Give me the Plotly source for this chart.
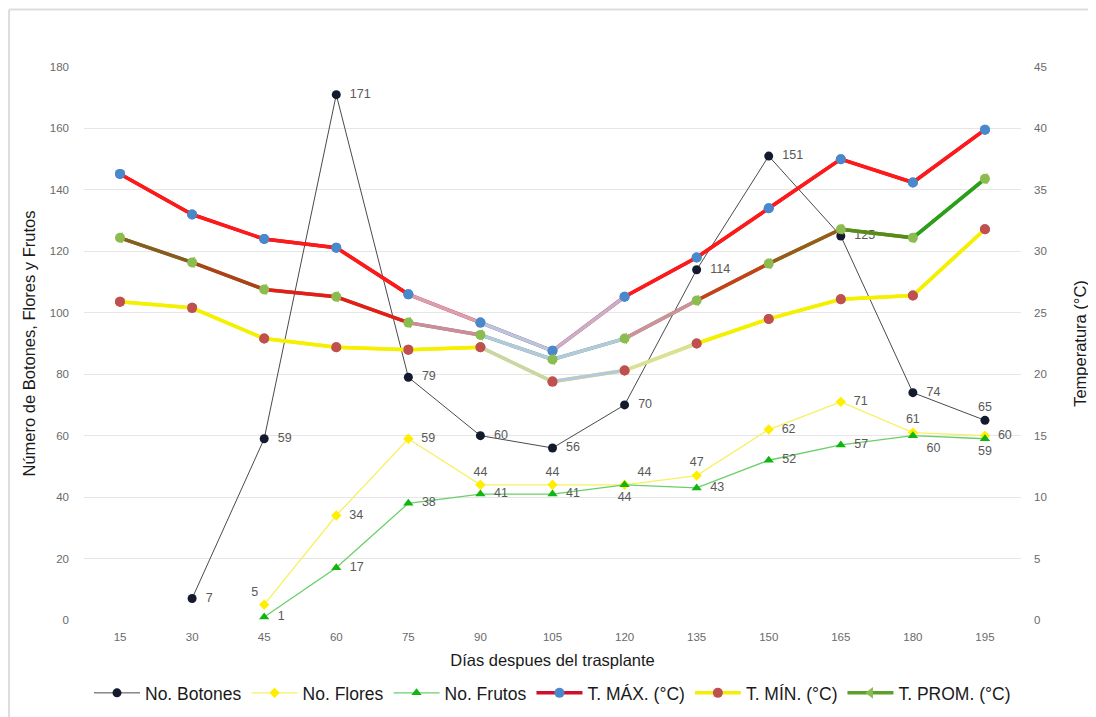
import plotly.graph_objects as go

dias = ["15", "30", "45", "60", "75", "90", "105", "120", "135", "150", "165", "180", "195"]
botones = [None, 7, 59, 171, 79, 60, 56, 70, 114, 151, 125, 74, 65]
flores = [None, None, 5, 34, 59, 44, 44, 44, 47, 62, 71, 61, 60]
frutos = [None, None, 1, 17, 38, 41, 41, 44, 43, 52, 57, 60, 59]
t_max = [36.3, 33.0, 31.0, 30.3, 26.5, 24.2, 21.9, 26.3, 29.5, 33.5, 37.5, 35.6, 39.9]
t_min = [25.9, 25.4, 22.9, 22.2, 22.0, 22.2, 19.4, 20.3, 22.5, 24.5, 26.1, 26.4, 31.8]
t_prom = [31.1, 29.1, 26.9, 26.3, 24.2, 23.2, 21.2, 22.9, 26.0, 29.0, 31.8, 31.1, 35.9]

# styles
LBLUE = "#b4c8e0"
max_seg = ["#ff1a1a"] * 4 + ["#d9a0b0", LBLUE, "#c8b0c8", "#ff1a1a"] + ["#ff1a1a"] * 4
min_seg = ["#f5f000"] * 5 + ["#c8d6b0", LBLUE, "#d8e0a0", "#f5f000"] + ["#f5f000"] * 3
prom_seg = ["#8a5a20", "#b0401a", "#e81a1a", "#e81a1a", "#d08aa0", LBLUE, LBLUE,
            "#d090a0", "#c8401a", "#9a5a1a", "#5a8a1a", "#2aa01a"]

bot_pos = ["middle right"] * 12 + ["top center"]
flo_pos = ["top left", "top left", "top left", "middle right", "middle right", "top center",
           "top center", "top right", "top center", "middle right", "middle right",
           "top center", "middle right"]
fru_pos = ["middle right"] * 7 + ["bottom center", "middle right", "middle right",
                                  "middle right", "bottom right", "bottom center"]

lbl_font = dict(family="Liberation Sans", size=12.5, color="#595959")


def labels(vals, pos):
    out = []
    for v, p in zip(vals, pos):
        if v is None:
            out.append("")
        elif p.endswith("right"):
            out.append("  " + str(v))
        else:
            out.append(str(v))
    return out


fig = go.Figure()

fig.add_trace(go.Scatter(
    x=dias, y=botones, name="No. Botones", mode="lines+markers+text",
    line=dict(color="#4a4a4a", width=1), marker=dict(color="#141a2e", size=9),
    text=labels(botones, bot_pos), textposition=bot_pos,
    textfont=lbl_font, cliponaxis=False))
fig.add_trace(go.Scatter(
    x=dias, y=flores, name="No. Flores", mode="lines+markers+text",
    line=dict(color="#f7f060", width=1.3), marker=dict(color="#ffee00", size=8, symbol="diamond"),
    text=labels(flores, flo_pos), textposition=flo_pos,
    textfont=lbl_font, cliponaxis=False))
fig.add_trace(go.Scatter(
    x=dias, y=frutos, name="No. Frutos", mode="lines+markers+text",
    line=dict(color="#6acf6a", width=1.3), marker=dict(color="#11b511", size=9, symbol="triangle-up"),
    text=labels(frutos, fru_pos), textposition=fru_pos,
    textfont=lbl_font, cliponaxis=False))


def temp_series(vals, name, legend_line, seg_colors, mcolor, legend_symbol="circle"):
    fig.add_trace(go.Scatter(
        x=dias, y=vals, name=name, mode="lines+markers", yaxis="y2",
        line=dict(color=legend_line, width=3.5),
        marker=dict(color=mcolor, size=10, symbol=legend_symbol)))
    for i in range(len(vals) - 1):
        fig.add_trace(go.Scatter(
            x=dias[i:i + 2], y=vals[i:i + 2], mode="lines", yaxis="y2",
            line=dict(color=seg_colors[i], width=3.5), showlegend=False, hoverinfo="skip"))
    fig.add_trace(go.Scatter(
        x=dias, y=vals, mode="markers", yaxis="y2", showlegend=False,
        marker=dict(color=mcolor, size=10)))


temp_series(t_max, "T. MÁX. (°C)", "#d0102a", max_seg, "#4a88cc")
temp_series(t_min, "T. MÍN. (°C)", "#f5f000", min_seg, "#c0504d")
temp_series(t_prom, "T. PROM. (°C)", "#5aa02a", prom_seg, "#8cbc50", "triangle-left")

tick_font = dict(family="Liberation Sans", size=11.5, color="#6a6a6a")
title_font = dict(family="Liberation Sans", size=16.5, color="#1a1a1a")

fig.update_layout(
    width=1096, height=717,
    margin=dict(l=76, r=83, t=59, b=105, autoexpand=False),
    paper_bgcolor="white", plot_bgcolor="white",
    showlegend=True,
    legend=dict(orientation="h", x=0.5, xanchor="center", y=-0.132, yanchor="middle",
                font=dict(family="Liberation Sans", size=17.5, color="#1a1a1a"),
                itemwidth=46, tracegroupgap=0),
    xaxis=dict(type="category", range=[-0.5, 12.5], showgrid=False, showline=False,
               ticks="", tickfont=tick_font, automargin=False, ticklabelstandoff=8,
               title=dict(text="Días despues del trasplante", font=title_font, standoff=12)),
    yaxis=dict(range=[0, 180], dtick=20, showgrid=True, gridcolor="#e6e6e6", gridwidth=1,
               zeroline=False, showline=False, ticks="", tickfont=tick_font, ticklabelstandoff=14,
               automargin=False,
               title=dict(text="Número de Botones, Flores y Frutos", font=title_font, standoff=10)),
    yaxis2=dict(range=[0, 45], dtick=5, overlaying="y", side="right", showgrid=False,
                zeroline=False, showline=False, ticks="", tickfont=tick_font, ticklabelstandoff=12,
                automargin=False,
                title=dict(text="Temperatura (°C)", font=title_font, standoff=28)),
    shapes=[
        dict(type="line", xref="paper", yref="paper", x0=-0.08, x1=1.1, y0=1.104, y1=1.104,
             line=dict(color="#dddddd", width=2)),
        dict(type="line", xref="paper", yref="paper", x0=-0.08, x1=-0.08, y0=-0.2, y1=1.104,
             line=dict(color="#dddddd", width=2)),
    ],
)

fig.write_html("out.html")
